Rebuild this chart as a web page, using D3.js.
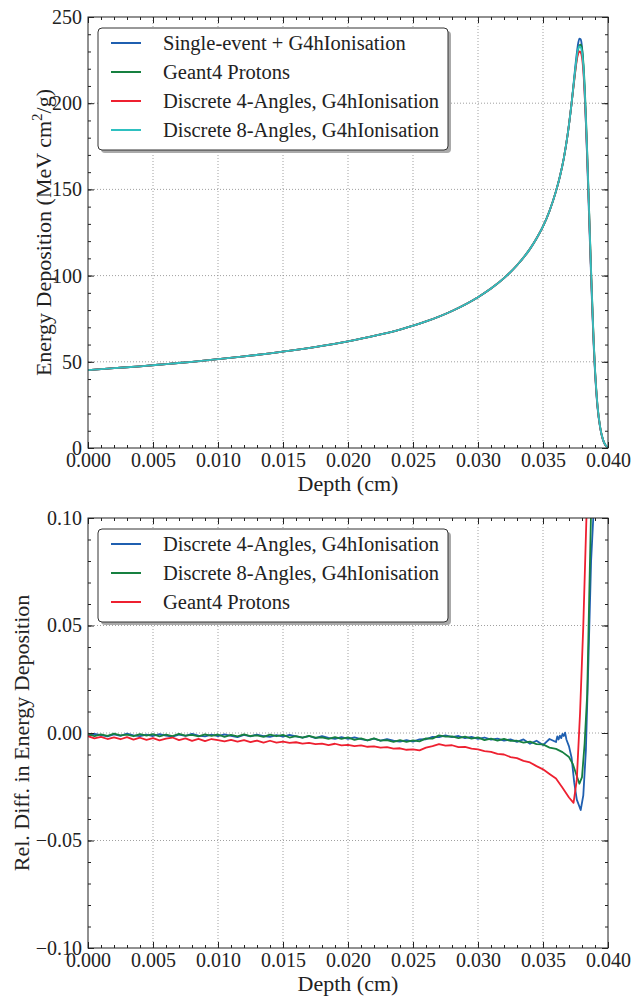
<!DOCTYPE html>
<html>
<head>
<meta charset="utf-8">
<script src="https://cdn.jsdelivr.net/npm/d3@7"></script>
<style>
body{margin:0;background:#fff}
svg text{font-family:"Liberation Serif","Times New Roman",Times,serif !important;fill:#222}
</style>
</head>
<body>
<script>
// ---- top panel data: energy deposition vs depth ----
const depthTop = [0, 0.002, 0.004, 0.006, 0.008, 0.010, 0.012, 0.014, 0.016, 0.018, 0.020, 0.022, 0.024, 0.026, 0.028, 0.030,
  0.031, 0.032, 0.033, 0.034, 0.0345, 0.035, 0.0355, 0.036, 0.0363, 0.0366, 0.0369, 0.0372, 0.0374, 0.0376, 0.0377, 0.0378,
  0.0379, 0.0380, 0.0381, 0.0382, 0.0383, 0.0384, 0.0385, 0.0386, 0.0387, 0.0388, 0.0389, 0.0390, 0.0391, 0.0392,
  0.0394, 0.0396, 0.0398, 0.0400]
const singleEvent = [45.2, 46.3, 47.4, 48.7, 50.0, 51.5, 53.1, 54.9, 56.9, 59.2, 61.9, 65.0, 68.7, 73.4, 79.5, 87.5,
  92.5, 98.5, 106, 115.5, 121.5, 128.5, 137.5, 149, 157.5, 168, 182, 200, 215, 229, 234.5, 237.5,
  237, 232.5, 222, 207, 188, 167, 144, 121, 99, 78, 59, 44, 32, 23,
  11.5, 5, 1.6, 0.3]
const geant4Top = [45.2, 46.3, 47.4, 48.7, 50.0, 51.5, 53.1, 54.9, 56.9, 59.2, 61.9, 65.0, 68.7, 73.4, 79.5, 87.5,
  92.5, 98.5, 106, 115.5, 121.5, 128.5, 137.5, 149, 157.5, 168, 182, 200, 213.5, 226, 231, 233.5,
  234, 231.5, 224, 211, 193, 172, 149, 126, 103, 82, 62, 46, 34, 24,
  12, 5.2, 1.7, 0.3]
const discrete4Top = [45.2, 46.3, 47.4, 48.7, 50.0, 51.5, 53.1, 54.9, 56.9, 59.2, 61.9, 65.0, 68.7, 73.4, 79.5, 87.5,
  92.5, 98.5, 106, 115.5, 121.5, 128.5, 137.5, 149, 157.5, 168, 182, 200, 213, 225, 228.5, 230,
  229.5, 226.5, 219, 206, 189, 169, 147, 124, 101, 80, 61, 45, 33, 23.5,
  11.8, 5.1, 1.6, 0.3]
const discrete8Top = [45.2, 46.3, 47.4, 48.7, 50.0, 51.5, 53.1, 54.9, 56.9, 59.2, 61.9, 65.0, 68.7, 73.4, 79.5, 87.5,
  92.5, 98.5, 106, 115.5, 121.5, 128.5, 137.5, 149, 157.5, 168, 182, 200, 214, 227, 231.5, 233,
  232.5, 229.5, 222, 209, 191, 171, 148, 125, 102, 81, 61.5, 45.5, 33.5, 24,
  12, 5.2, 1.7, 0.3]

// ---- bottom panel data: relative difference ----
const depthDiff = [0, 0.0005, 0.001, 0.0015, 0.002, 0.0025, 0.003, 0.0035, 0.004, 0.0045,
  0.005, 0.0055, 0.006, 0.0065, 0.007, 0.0075, 0.008, 0.0085, 0.009, 0.0095,
  0.010, 0.0105, 0.011, 0.0115, 0.012, 0.0125, 0.013, 0.0135, 0.014, 0.0145,
  0.015, 0.0155, 0.016, 0.0165, 0.017, 0.0175, 0.018, 0.0185, 0.019, 0.0195,
  0.020, 0.0205, 0.021, 0.0215, 0.022, 0.0225, 0.023, 0.0235, 0.024, 0.0245,
  0.025, 0.0255, 0.026, 0.0265, 0.027, 0.0275, 0.028, 0.0285, 0.029, 0.0295,
  0.030, 0.0305, 0.031, 0.0315, 0.032, 0.0325, 0.033, 0.0335, 0.034, 0.0345,
  0.035, 0.0355, 0.036]
const diff4 = [-0.0012, -0.0004, -0.0010, -0.0016, -0.0006, -0.0013, -0.0003, -0.0011, -0.0015, -0.0007,
  -0.0014, -0.0005, -0.0012, -0.0017, -0.0008, -0.0013, -0.0004, -0.0012, -0.0016, -0.0008,
  -0.0015, -0.0006, -0.0013, -0.0019, -0.0009, -0.0016, -0.0007, -0.0014, -0.0018, -0.0010,
  -0.0017, -0.0009, -0.0016, -0.0022, -0.0014, -0.0024, -0.0015, -0.0023, -0.0027, -0.0019,
  -0.0027, -0.0020, -0.0029, -0.0034, -0.0026, -0.0036, -0.0028, -0.0036, -0.0040, -0.0033,
  -0.0040, -0.0030, -0.0029, -0.0018, -0.0019, -0.0011, -0.0019, -0.0014, -0.0024, -0.0018,
  -0.0027, -0.0021, -0.0031, -0.0026, -0.0035, -0.0030, -0.0041, -0.0030, -0.0050, -0.0036,
  -0.0056, -0.0028, -0.0042]
const diff4TailDepth = [0.0361, 0.0362, 0.0363, 0.0364, 0.0365, 0.0366, 0.0367, 0.0368, 0.0370, 0.0372, 0.0374,
  0.0376, 0.0379, 0.0381, 0.0383, 0.0385, 0.0387, 0.0389]
const diff4Tail = [-0.0016, -0.0030, -0.0012, -0.0024, -0.0004, -0.0014, 0.0002, -0.0030, -0.0062, -0.0115, -0.0230,
  -0.0310, -0.0358, -0.0290, -0.0080, 0.0350, 0.0800, 0.1040]

const diff8 = [-0.0004, -0.0015, -0.0006, -0.0013, -0.0003, -0.0011, -0.0008, -0.0015, -0.0005, -0.0012,
  -0.0005, -0.0016, -0.0007, -0.0014, -0.0004, -0.0012, -0.0009, -0.0016, -0.0006, -0.0013,
  -0.0007, -0.0018, -0.0009, -0.0016, -0.0006, -0.0014, -0.0011, -0.0018, -0.0008, -0.0015,
  -0.0009, -0.0021, -0.0014, -0.0022, -0.0013, -0.0022, -0.0020, -0.0027, -0.0019, -0.0027,
  -0.0020, -0.0032, -0.0025, -0.0034, -0.0025, -0.0035, -0.0033, -0.0041, -0.0033, -0.0041,
  -0.0034, -0.0039, -0.0025, -0.0026, -0.0011, -0.0017, -0.0016, -0.0024, -0.0017, -0.0026,
  -0.0020, -0.0033, -0.0026, -0.0035, -0.0027, -0.0037, -0.0036, -0.0045, -0.0040, -0.0052,
  -0.0053, -0.0068, -0.0074]
const diff8TailDepth = [0.0365, 0.0370, 0.0373, 0.0376, 0.0378, 0.0380, 0.0382, 0.0384, 0.03855, 0.0387]
const diff8Tail = [-0.0089, -0.0112, -0.0145, -0.0200, -0.0236, -0.0205, -0.0050, 0.0180, 0.0620, 0.1040]

const diffG4 = [-0.0015, -0.0025, -0.0018, -0.0028, -0.0020, -0.0029, -0.0019, -0.0031, -0.0022, -0.0032,
  -0.0024, -0.0034, -0.0026, -0.0021, -0.0033, -0.0025, -0.0037, -0.0027, -0.0038, -0.0028,
  -0.0033, -0.0039, -0.0032, -0.0040, -0.0033, -0.0042, -0.0035, -0.0045, -0.0036, -0.0045,
  -0.0040, -0.0046, -0.0043, -0.0049, -0.0046, -0.0052, -0.0049, -0.0056, -0.0050, -0.0058,
  -0.0055, -0.0061, -0.0058, -0.0064, -0.0062, -0.0068, -0.0066, -0.0073, -0.0071, -0.0078,
  -0.0076, -0.0081, -0.0068, -0.0061, -0.0052, -0.0059, -0.0057, -0.0066, -0.0065, -0.0073,
  -0.0076, -0.0084, -0.0088, -0.0097, -0.0100, -0.0112, -0.0117, -0.0130, -0.0137, -0.0154,
  -0.0169, -0.0191, -0.0212]
const diffG4TailDepth = [0.0365, 0.0370, 0.03735, 0.0376, 0.03785, 0.0381, 0.03836]
const diffG4Tail = [-0.0255, -0.0300, -0.0325, -0.0217, 0.0093, 0.0500, 0.1040]

const xTicks = [0, 0.005, 0.010, 0.015, 0.020, 0.025, 0.030, 0.035, 0.040]
const yTicksTop = [0, 50, 100, 150, 200, 250]
const yTicksBottom = [-0.10, -0.05, 0.00, 0.05, 0.10]

const colors = {blue: '#1f5fb0', green: '#168040', red: '#ee2030', cyan: '#2ec0c0'}

const W = 644, H = 997
const svg = d3.select('body').append('svg')
  .attr('width', W)
  .attr('height', H)

const left = 88, right = 608

function panel(id, top, bottom, yDomain, yTicks, yMinorStep, yFmt, ylabel, series, curve, legendItems, legendTop){
  const x = d3.scaleLinear().domain([0, 0.04]).range([left, right])
  const y = d3.scaleLinear().domain(yDomain).range([bottom, top])
  const g = svg.append('g')

  g.append('clipPath').attr('id', id)
    .append('rect').attr('x', left).attr('y', top).attr('width', right - left).attr('height', bottom - top)

  // grid
  g.append('g').selectAll('line').data(xTicks.slice(1, -1)).enter().append('line')
    .attr('x1', d => x(d)).attr('x2', d => x(d)).attr('y1', top).attr('y2', bottom)
    .attr('stroke', '#888').attr('stroke-width', 0.8).attr('stroke-dasharray', '1,2')
  g.append('g').selectAll('line').data(yTicks.slice(1, -1)).enter().append('line')
    .attr('y1', d => y(d)).attr('y2', d => y(d)).attr('x1', left).attr('x2', right)
    .attr('stroke', '#888').attr('stroke-width', 0.8).attr('stroke-dasharray', '1,2')

  // curves
  const line = d3.line().x(d => x(d[0])).y(d => y(d[1])).curve(curve)
  const lines = g.append('g').attr('clip-path', `url(#${id})`)
  series.forEach(s => {
    lines.append('path')
      .datum(s.depth.map((d, i) => [d, s.values[i]]))
      .attr('d', line)
      .attr('fill', 'none')
      .attr('stroke', s.color)
      .attr('stroke-width', 1.8)
      .attr('stroke-linejoin', 'round')
  })

  // axes, ticks pointing inward on all four sides
  const xMinor = d3.range(0, 0.0401, 0.001)
  const yMinor = d3.range(yDomain[0], yDomain[1] + yMinorStep / 2, yMinorStep)
  const axes = [
    [d3.axisBottom(x).tickValues(xTicks).tickFormat(d3.format('.3f')).tickPadding(5), `translate(0,${bottom})`],
    [d3.axisTop(x).tickValues(xTicks).tickFormat(''), `translate(0,${top})`],
    [d3.axisLeft(y).tickValues(yTicks).tickFormat(yFmt).tickPadding(6), `translate(${left},0)`],
    [d3.axisRight(y).tickValues(yTicks).tickFormat(''), `translate(${right},0)`]
  ]
  axes.forEach(([ax, tr]) => {
    const a = g.append('g').attr('transform', tr)
      .call(ax.tickSizeInner(-6).tickSizeOuter(0))
    a.select('.domain').remove()
    a.selectAll('line').attr('stroke', '#222')
    a.selectAll('text').attr('font-size', 20)
  })
  const minors = [
    [d3.axisBottom(x).tickValues(xMinor), `translate(0,${bottom})`],
    [d3.axisTop(x).tickValues(xMinor), `translate(0,${top})`],
    [d3.axisLeft(y).tickValues(yMinor), `translate(${left},0)`],
    [d3.axisRight(y).tickValues(yMinor), `translate(${right},0)`]
  ]
  minors.forEach(([ax, tr]) => {
    const a = g.append('g').attr('transform', tr)
      .call(ax.tickSizeInner(-3).tickSizeOuter(0).tickFormat(''))
    a.select('.domain').remove()
    a.selectAll('line').attr('stroke', '#222')
  })

  g.append('rect').attr('x', left).attr('y', top).attr('width', right - left).attr('height', bottom - top)
    .attr('fill', 'none').attr('stroke', '#222').attr('stroke-width', 1)

  // axis titles
  g.append('text').attr('x', (left + right) / 2).attr('y', bottom + 43)
    .attr('text-anchor', 'middle').attr('font-size', 22).text('Depth (cm)')
  ylabel(g, (top + bottom) / 2)

  // legend
  const lg = g.append('g')
  const lh = legendItems.length * 29 + 6
  lg.append('rect').attr('x', 101).attr('y', legendTop + 3).attr('width', 350).attr('height', lh)
    .attr('rx', 4).attr('fill', '#aaa')
  lg.append('rect').attr('x', 98).attr('y', legendTop).attr('width', 350).attr('height', lh)
    .attr('rx', 4).attr('fill', '#fff').attr('stroke', '#333').attr('stroke-width', 1)
  legendItems.forEach((it, i) => {
    const yy = legendTop + 15 + i * 29
    lg.append('line').attr('x1', 111).attr('x2', 141).attr('y1', yy).attr('y2', yy)
      .attr('stroke', it.color).attr('stroke-width', 2)
    lg.append('text').attr('x', 163).attr('y', yy + 7).attr('font-size', 20.5).text(it.label)
  })
}

panel('clipTop', 17, 448, [0, 250], yTicksTop, 10, d3.format('d'),
  (g, cy) => {
    const t = g.append('text').attr('transform', `translate(51,${cy}) rotate(-90)`)
      .attr('text-anchor', 'middle').attr('font-size', 22)
    t.append('tspan').text('Energy Deposition (MeV cm')
    t.append('tspan').attr('dy', -9).attr('font-size', 15).text('2')
    t.append('tspan').attr('dy', 9).text('/g)')
  },
  [
    {depth: depthTop, values: singleEvent, color: colors.blue},
    {depth: depthTop, values: geant4Top, color: colors.green},
    {depth: depthTop, values: discrete4Top, color: colors.red},
    {depth: depthTop, values: discrete8Top, color: colors.cyan}
  ], d3.curveMonotoneX,
  [
    {label: 'Single-event + G4hIonisation', color: colors.blue},
    {label: 'Geant4 Protons', color: colors.green},
    {label: 'Discrete 4-Angles, G4hIonisation', color: colors.red},
    {label: 'Discrete 8-Angles, G4hIonisation', color: colors.cyan}
  ], 28)

panel('clipBottom', 518, 948, [-0.1, 0.1], yTicksBottom, 0.01, d3.format('.2f'),
  (g, cy) => {
    g.append('text').attr('transform', `translate(29,${cy}) rotate(-90)`)
      .attr('text-anchor', 'middle').attr('font-size', 22).text('Rel. Diff. in Energy Deposition')
  },
  [
    {depth: depthDiff.concat(diff4TailDepth), values: diff4.concat(diff4Tail), color: colors.blue},
    {depth: depthDiff.concat(diff8TailDepth), values: diff8.concat(diff8Tail), color: colors.green},
    {depth: depthDiff.concat(diffG4TailDepth), values: diffG4.concat(diffG4Tail), color: colors.red}
  ], d3.curveLinear,
  [
    {label: 'Discrete 4-Angles, G4hIonisation', color: colors.blue},
    {label: 'Discrete 8-Angles, G4hIonisation', color: colors.green},
    {label: 'Geant4 Protons', color: colors.red}
  ], 529)
</script>
</body>
</html>
